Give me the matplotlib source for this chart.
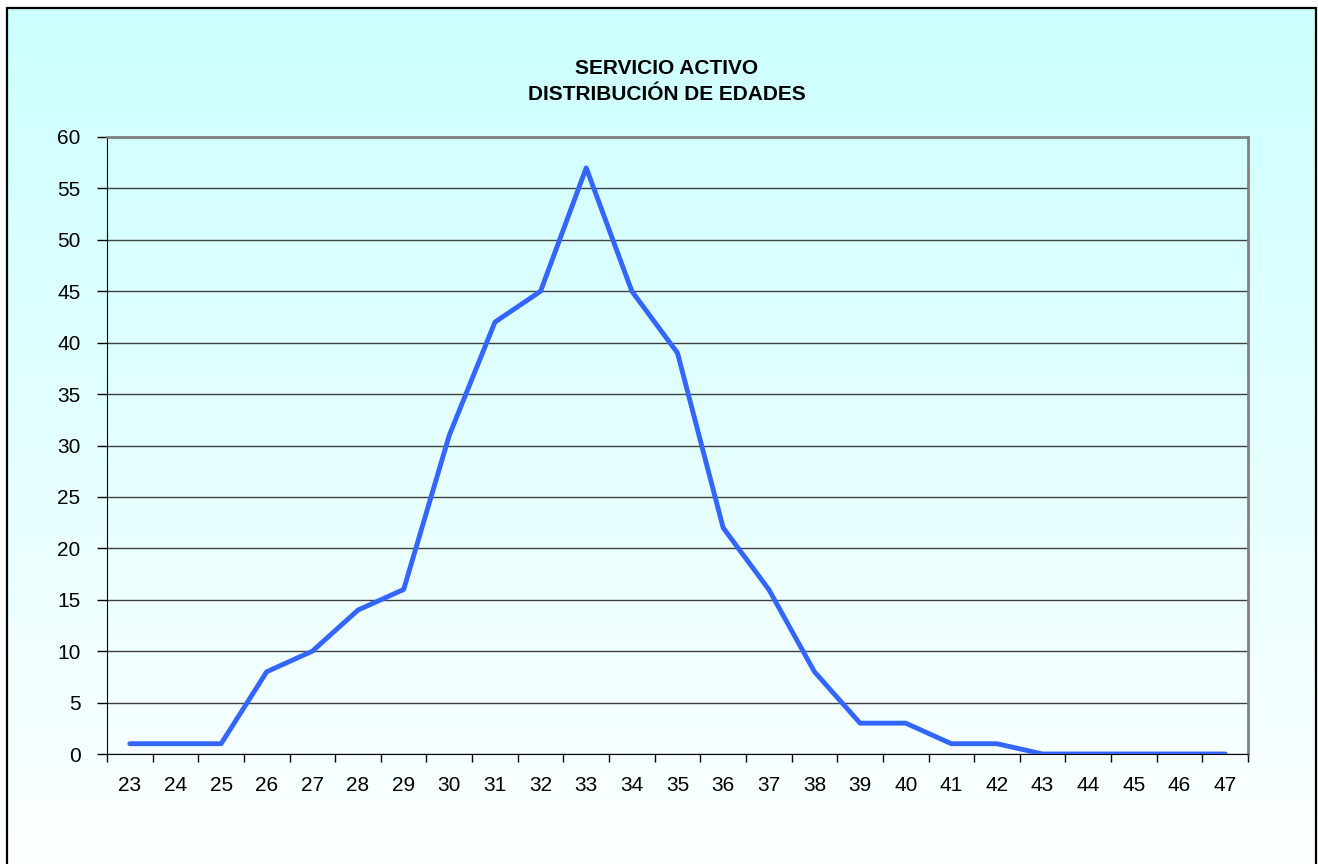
import numpy as np
import matplotlib
matplotlib.use("Agg")
import matplotlib.pyplot as plt
from matplotlib.patches import Rectangle

plt.rcParams['font.family'] = ['Liberation Sans', 'DejaVu Sans']

# Datos: edades y número de personas
edades = [str(e) for e in range(23, 48)]
personas = [1, 1, 1, 8, 10, 14, 16, 31, 42, 45, 57, 45, 39, 22, 16, 8,
            3, 3, 1, 1, 0, 0, 0, 0, 0]
titulo1 = "SERVICIO ACTIVO"
titulo2 = "DISTRIBUCIÓN DE EDADES"

W, H = 1318, 864
fig = plt.figure(figsize=(W / 100, H / 100), dpi=100)
fig.patch.set_facecolor('white')

# Fondo degradado dentro del marco
fx0, fy0 = 7 / W, -0.05
fw, fh = (1316 - 7) / W, 1.05 - 8 / H
bg = fig.add_axes([fx0, fy0, fw, fh], zorder=0)
top = np.array([204, 255, 255]) / 255
bot = np.array([255, 255, 255]) / 255
t = np.linspace(0, 1, 256)[:, None]
grad = (top[None, :] * (1 - t) + bot[None, :] * t)[:, None, :]
bg.imshow(grad, aspect='auto', extent=[0, 1, 0, 1])
bg.set_axis_off()
fig.patches.append(Rectangle((fx0, fy0), fw, fh, transform=fig.transFigure,
                             fill=False, edgecolor='black', linewidth=1.6,
                             zorder=5))

# Área de la gráfica
ax = fig.add_axes([107 / W, 1 - 754 / H, (1248 - 107) / W, (754 - 137) / H],
                  zorder=1)
ax.patch.set_alpha(0)
x = np.arange(len(edades))
ax.plot(x, personas, color='#3366FF', linewidth=3.5, solid_capstyle='round',
        solid_joinstyle='round', zorder=3)

ax.set_xlim(-0.5, len(edades) - 0.5)
ax.set_ylim(0, 60)
ax.set_yticks(range(0, 61, 5))
ax.yaxis.grid(True, color='#404040', linewidth=1)
ax.set_axisbelow(True)

ax.set_xticks(x)
ax.set_xticklabels(edades)
ax.set_xticks(np.arange(-0.5, len(edades)), minor=True)
ax.tick_params(axis='x', which='major', length=0, pad=16, labelsize=15)
ax.tick_params(axis='x', which='minor', length=6, direction='out', width=1)
ax.tick_params(axis='y', length=7, direction='out', width=1, pad=12,
               labelsize=15)

ax.spines['left'].set_color('black')
ax.spines['bottom'].set_color('black')
ax.spines['top'].set_color('#808080')
ax.spines['right'].set_color('#808080')
ax.spines['top'].set_linewidth(2)
ax.spines['right'].set_linewidth(2)

fig.text(667 / W, 1 - 74 / H, titulo1, ha='center', va='baseline',
         fontsize=15, fontweight='bold')
fig.text(667 / W, 1 - 100 / H, titulo2, ha='center', va='baseline',
         fontsize=15, fontweight='bold')

fig.savefig('out.png', dpi=100)
